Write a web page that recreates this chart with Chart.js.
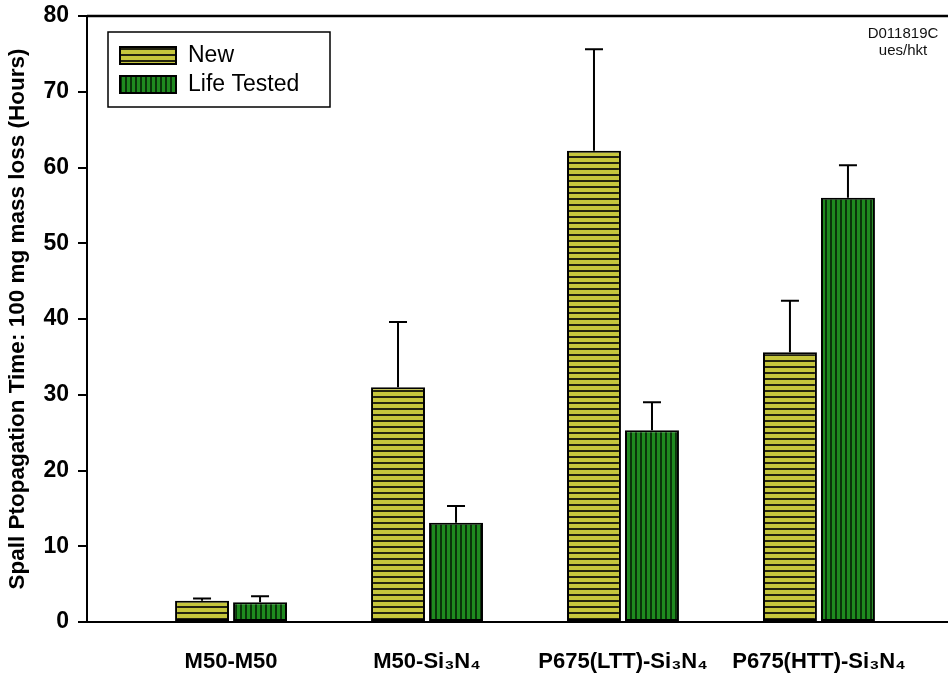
<!DOCTYPE html>
<html>
<head>
<meta charset="utf-8">
<script src="https://cdn.jsdelivr.net/npm/chart.js@4"></script>
<style>
  html, body { margin: 0; padding: 0; background: #fff; }
  #wrap { width: 948px; height: 673px; overflow: hidden; }
</style>
</head>
<body>
<div id="wrap"><canvas id="chart" width="980" height="673"></canvas></div>
<script>
// data
const categories = ['M50-M50', 'M50-Si₃N₄', 'P675(LTT)-Si₃N₄', 'P675(HTT)-Si₃N₄'];
const newVals = [2.8, 31.0, 62.2, 35.6];
const newErr = [0.3, 8.6, 13.4, 6.8];
const lifeVals = [2.6, 13.1, 25.3, 56.0];
const lifeErr = [0.8, 2.2, 3.7, 4.3];
const yTicks = [0, 10, 20, 30, 40, 50, 60, 70, 80];

// striped fills
function stripes(horizontal, bg, fg, period, band) {
  const c = document.createElement('canvas');
  c.width = horizontal ? 8 : period;
  c.height = horizontal ? period : 8;
  const g = c.getContext('2d');
  g.fillStyle = bg;
  g.fillRect(0, 0, c.width, c.height);
  g.fillStyle = fg;
  if (horizontal) g.fillRect(0, 0, c.width, band);
  else g.fillRect(0, 0, band, c.height);
  return g.createPattern(c, 'repeat');
}
const newFill = stripes(true, '#c6c63c', '#24240f', 6, 2);
const lifeFill = stripes(false, '#1f8a1f', '#0a340a', 5, 2);

const FONT = '"Liberation Sans", Arial, sans-serif';

// error bars (upper only)
const errorBars = {
  id: 'errorBars',
  afterDatasetsDraw(chart) {
    const ctx = chart.ctx;
    const y = chart.scales.y;
    ctx.save();
    ctx.strokeStyle = '#000';
    ctx.lineWidth = 2;
    chart.data.datasets.forEach((ds, di) => {
      const meta = chart.getDatasetMeta(di);
      meta.data.forEach((bar, i) => {
        const top = y.getPixelForValue(ds.data[i].y + ds.err[i]);
        ctx.beginPath();
        ctx.moveTo(bar.x, bar.y);
        ctx.lineTo(bar.x, top);
        ctx.moveTo(bar.x - 9, top);
        ctx.lineTo(bar.x + 9, top);
        ctx.stroke();
      });
    });
    ctx.restore();
  }
};

// frame, legend box and the note in the corner
const decor = {
  id: 'decor',
  afterDraw(chart) {
    const ctx = chart.ctx;
    const a = chart.chartArea;
    ctx.save();
    ctx.strokeStyle = '#000';
    ctx.lineWidth = 2.5;
    ctx.beginPath();
    ctx.moveTo(a.left, a.top);
    ctx.lineTo(a.right, a.top);
    ctx.lineTo(a.right, a.bottom);
    ctx.stroke();

    // legend
    ctx.lineWidth = 1.5;
    ctx.strokeRect(108, 32, 222, 75);
    ctx.font = '23px ' + FONT;
    ctx.textBaseline = 'middle';
    chart.data.datasets.forEach((ds, i) => {
      const yy = 47 + i * 29;
      ctx.fillStyle = ds.backgroundColor;
      ctx.fillRect(120, yy, 56, 17);
      ctx.strokeStyle = '#000';
      ctx.lineWidth = 2;
      ctx.strokeRect(120, yy, 56, 17);
      ctx.fillStyle = '#000';
      ctx.fillText(ds.label, 188, yy + 9);
    });

    ctx.font = '15px ' + FONT;
    ctx.textAlign = 'center';
    ctx.fillStyle = '#111';
    ctx.fillText('D011819C', 903, 34);
    ctx.fillText('ues/hkt', 903, 51);
    ctx.restore();
  }
};

new Chart(document.getElementById('chart'), {
  type: 'bar',
  data: {
    datasets: [
      {
        label: 'New',
        data: newVals.map((v, i) => ({ x: i, y: v })),
        err: newErr,
        backgroundColor: newFill,
        borderColor: '#000',
        borderWidth: 2,
        borderSkipped: false
      },
      {
        label: 'Life Tested',
        data: lifeVals.map((v, i) => ({ x: i, y: v })),
        err: lifeErr,
        backgroundColor: lifeFill,
        borderColor: '#000',
        borderWidth: 2,
        borderSkipped: false
      }
    ]
  },
  options: {
    responsive: false,
    animation: false,
    categoryPercentage: 0.592,
    barPercentage: 0.93,
    layout: { padding: { top: 16, right: 17, left: 0, bottom: 0 } },
    scales: {
      x: {
        type: 'linear',
        offset: false,
        min: -0.735,
        max: 3.735,
        afterBuildTicks: s => { s.ticks = categories.map((_, i) => ({ value: i })); },
        afterFit: s => { s.height = 51; s.paddingLeft = 0; s.paddingRight = 0; },
        grid: { display: false, drawTicks: false },
        border: { display: true, color: '#000', width: 2 },
        ticks: {
          callback: (v, i) => categories[i],
          color: '#000',
          padding: 27,
          maxRotation: 0,
          autoSkip: false,
          font: { family: FONT, size: 22, weight: 'bold' }
        }
      },
      y: {
        min: 0,
        max: 80,
        afterBuildTicks: s => { s.ticks = yTicks.map(v => ({ value: v })); },
        afterFit: s => { s.width = 87; s.paddingTop = 0; s.paddingBottom = 0; },
        grid: { drawOnChartArea: false, drawTicks: true, tickLength: 9, color: '#000', lineWidth: 2 },
        border: { display: true, color: '#000', width: 2 },
        ticks: {
          color: '#000',
          padding: 9,
          font: { family: FONT, size: 23, weight: 'bold' }
        },
        title: {
          display: true,
          text: 'Spall Ptopagation Time: 100 mg mass loss (Hours)',
          color: '#000',
          padding: { top: 4, bottom: 0 },
          font: { family: FONT, size: 22.5, weight: 'bold' }
        }
      }
    },
    plugins: {
      legend: { display: false },
      tooltip: { enabled: false }
    }
  },
  plugins: [errorBars, decor]
});
</script>
</body>
</html>
